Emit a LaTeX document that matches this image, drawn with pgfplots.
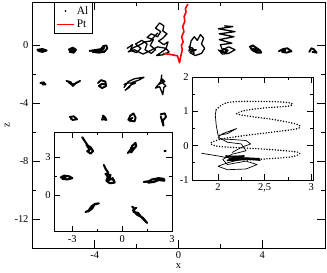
\documentclass[border=0pt]{standalone}
\usepackage{pgfplots}
\pgfplotsset{compat=1.18}
\usepackage{fontspec}
\setmainfont{Liberation Serif}
\begin{document}
\begin{tikzpicture}
\pgfplotsset{
  al/.style={black, line width=1.9pt, line join=round, line cap=round, forget plot},
  alb/.style={black, line width=1.3pt, line join=round, line cap=round, forget plot},
  ali/.style={black, line width=2.1pt, line join=round, line cap=round, forget plot},
}
\begin{axis}[name=ax, scale only axis, width=293bp, height=246bp,
  xmin=-7, xmax=7, ymin=-14, ymax=3,
  xtick={-4,0,4}, ytick={-12,-8,-4,0}, minor x tick num=1, minor y tick num=1,
  major tick length=8bp, minor tick length=4bp,
  axis line style={line width=0.7pt}, every tick/.style={black, line width=0.7pt},
  tick label style={font=\fontsize{10.5}{12}\selectfont},
  /pgf/number format/assume math mode=true,
  xlabel={x}, ylabel={z},
  label style={font=\fontsize{10.5}{12}\selectfont},
  xlabel style={yshift=1.5bp}, ylabel style={yshift=-2bp},
  legend style={at={(axis description cs:0.075,1)}, anchor=north west, draw=black, line width=0.5pt,
    font=\fontsize{11.5}{12}\selectfont, inner sep=2pt, row sep=0.5pt, cells={anchor=west}},
]
\addlegendimage{only marks, mark=*, mark size=0.6pt, black}
\addlegendentry{Al}
\addlegendimage{red, line width=1.6pt}
\addlegendentry{Pt}
% row 1
\addplot[al] coordinates {(-6.75,-0.3) (-6.5,-0.25) (-6.3,-0.35) (-6.5,-0.45) (-6.7,-0.38) (-6.45,-0.32) (-6.35,-0.4)};
\addplot[al] coordinates {(-5.25,-0.3) (-5.05,-0.15) (-4.9,-0.3) (-5.0,-0.5) (-5.2,-0.45) (-5.1,-0.3) (-4.95,-0.4)};
\addplot[al] coordinates {(-4.25,-0.38) (-3.9,-0.3) (-3.7,-0.25) (-3.6,-0.05) (-3.45,0.0) (-3.4,-0.2) (-3.55,-0.45) (-3.8,-0.5) (-4.1,-0.45) (-3.9,-0.38) (-3.65,-0.35) (-3.55,-0.15)};
\addplot[alb] coordinates {(-2.45,-0.2) (-2.2,0.05) (-2.3,-0.35) (-2.0,-0.5) (-1.8,-0.2) (-2.05,0.1) (-1.75,0.35) (-1.5,0.1) (-1.6,-0.3) (-1.3,-0.55) (-1.1,-0.3) (-1.35,0.0) (-1.2,0.4) (-1.5,0.55) (-1.3,0.8) (-1.0,0.6) (-0.85,0.95) (-1.1,1.2) (-0.9,1.55) (-0.7,1.35) (-0.75,1.0) (-0.55,0.8) (-0.75,0.5) (-0.95,0.3) (-0.7,0.05) (-0.5,0.25) (-0.6,-0.25) (-0.85,-0.5) (-1.05,-0.7) (-0.75,-0.65) (-0.45,-0.45) (-0.6,-0.2) (-1.0,-0.1) (-1.4,-0.4) (-1.7,-0.6) (-2.1,-0.3) (-2.4,-0.45) (-2.15,-0.15) (-1.9,0.0) (-1.6,0.25) (-1.35,0.3) (-1.0,0.85)};
\addplot[alb] coordinates {(0.5,-0.4) (0.6,0.3) (0.75,0.6) (0.9,0.35) (1.05,0.75) (1.2,0.5) (1.1,0.1) (1.25,-0.2) (1.1,-0.55) (0.8,-0.7) (0.55,-0.5) (0.7,-0.2) (0.5,-0.1) (0.65,-0.45) (0.85,-0.3) (0.6,-0.3) (0.75,-0.55)};
\addplot[alb] coordinates {(1.9,-0.3) (2.1,-0.6) (2.4,-0.55) (2.7,-0.3) (2.4,-0.1) (2.1,-0.3) (2.0,0.05) (2.55,0.15) (1.95,0.4) (2.65,0.6) (1.95,0.8) (2.7,0.95) (1.9,1.15) (2.6,1.3) (2.2,1.35)};
\addplot[al] coordinates {(2.0,-0.35) (2.2,-0.5) (2.35,-0.35) (2.15,-0.25) (2.05,-0.45) (2.3,-0.5)};
\addplot[al] coordinates {(3.4,-0.1) (3.55,0.0) (3.7,-0.15) (3.9,-0.35) (3.95,-0.5) (3.75,-0.5) (3.55,-0.35) (3.45,-0.2) (3.6,-0.25) (3.8,-0.4)};
\addplot[al] coordinates {(4.8,-0.4) (5.0,-0.25) (5.2,-0.2) (5.4,-0.4) (5.15,-0.5) (4.95,-0.45) (5.1,-0.35)};
\addplot[al] coordinates {(6.25,-0.45) (6.35,-0.2) (6.45,-0.25) (6.6,-0.5) (6.4,-0.45)};
% row 2
\addplot[al] coordinates {(-6.6,-2.6) (-6.45,-2.55) (-6.35,-2.7) (-6.5,-2.7)};
\addplot[al] coordinates {(-5.35,-2.45) (-5.15,-2.55) (-5.05,-2.8) (-4.9,-2.6) (-4.7,-2.45) (-4.95,-2.65) (-5.1,-2.7) (-5.25,-2.55)};
\addplot[al] coordinates {(-3.85,-2.6) (-3.7,-2.4) (-3.5,-2.5) (-3.45,-2.8) (-3.65,-2.95) (-3.8,-2.8) (-3.65,-2.65) (-3.55,-2.7)};
\addplot[alb] coordinates {(-2.6,-2.9) (-2.4,-2.5) (-2.1,-2.3) (-1.65,-2.2) (-1.9,-2.4) (-2.2,-2.55) (-2.35,-2.9) (-2.55,-3.1) (-2.3,-2.75) (-2.05,-2.6) (-2.45,-2.6) (-2.6,-2.7)};
\addplot[alb] coordinates {(-0.8,-2.05) (-0.85,-2.5) (-1.1,-2.95) (-0.9,-2.85) (-0.75,-3.4) (-0.7,-2.9) (-0.6,-2.8) (-0.75,-2.6) (-0.8,-2.3) (-0.65,-2.5) (-0.95,-2.7)};
% row 3
\addplot[al] coordinates {(-5.2,-4.95) (-5.0,-4.9) (-4.85,-5.1) (-5.05,-5.15) (-5.15,-5.05)};
\addplot[al] coordinates {(-3.65,-5.15) (-3.6,-4.85) (-3.5,-5.0) (-3.45,-5.15) (-3.6,-5.1)};
\addplot[al] coordinates {(-2.4,-5.15) (-2.3,-4.85) (-2.15,-4.7) (-2.05,-5.0) (-2.1,-5.25) (-2.35,-5.2) (-2.2,-5.0)};
\addplot[al] coordinates {(-0.85,-4.75) (-0.65,-4.7) (-0.6,-4.95) (-0.75,-5.2) (-0.72,-5.55) (-0.8,-5.15) (-0.85,-4.9)};
% Pt
\addplot[red, line width=1.6pt, line join=round, forget plot] coordinates {(-0.75,-0.55) (-0.4,-0.62) (-0.05,-0.72) (0.05,-1.2) (0.1,-0.8) (0.18,-0.3) (0.14,0.0) (0.22,0.25) (0.15,0.6) (0.26,0.95) (0.2,1.3) (0.3,1.65) (0.27,2.0) (0.36,2.3) (0.33,2.55) (0.45,2.85)};
\end{axis}
\path[use as bounding box] ([xshift=-32bp,yshift=-25bp]ax.south west) rectangle ([xshift=2bp,yshift=2bp]ax.north east);
\path (ax.south west) ++(22bp,16.3bp) coordinate (ia);
\path (ax.south west) ++(160bp,68bp) coordinate (ib);
% inset 1
\begin{axis}[at={(ia)}, anchor=south west,
  scale only axis, width=118bp, height=99.5bp,
  xmin=-4.1, xmax=3.0, ymin=-2.9, ymax=5,
  xtick={-3,0,3}, ytick={0,3}, minor x tick num=1, minor y tick num=1,
  major tick length=6bp, minor tick length=3bp,
  axis line style={line width=0.7pt}, every tick/.style={black, line width=0.7pt},
  tick label style={font=\fontsize{10.5}{12}\selectfont},
  /pgf/number format/assume math mode=true,
  axis background/.style={fill=white},
]
\addplot[ali] coordinates {(-2.4,4.6) (-2.2,4.2) (-2.05,3.9) (-1.95,3.6) (-2.1,3.5) (-1.9,3.3) (-1.75,3.5) (-1.9,3.8) (-2.15,4.0) (-2.0,3.7)};
\addplot[ali] coordinates {(0.35,3.35) (0.5,3.6) (0.6,3.9) (0.8,4.15) (0.85,3.9) (0.65,3.6) (0.55,3.4) (0.45,3.5) (0.7,3.75)};
\addplot[ali] coordinates {(2.55,3.5) (2.62,3.52)};
\addplot[ali] coordinates {(-3.7,1.4) (-3.5,1.55) (-3.2,1.5) (-3.0,1.35) (-3.3,1.25) (-3.6,1.3) (-3.4,1.4)};
\addplot[ali] coordinates {(-1.1,2.4) (-1.0,2.1) (-0.85,1.8) (-0.9,1.5) (-0.7,1.3) (-0.5,1.2) (-0.45,1.0) (-0.75,0.95) (-0.95,1.15) (-0.85,1.45) (-1.0,1.7) (-0.7,1.6) (-0.8,1.2) (-0.55,1.35)};
\addplot[ali] coordinates {(1.3,1.05) (1.6,1.1) (1.8,1.25) (2.0,1.3) (2.2,1.35) (2.5,1.3) (2.55,1.15) (2.2,1.2) (1.9,1.05) (1.6,1.0) (1.45,1.1)};
\addplot[ali] coordinates {(-2.2,-1.35) (-2.0,-1.2) (-1.85,-0.9) (-1.7,-0.75) (-1.4,-0.65) (-1.65,-0.7) (-1.8,-1.05) (-2.05,-1.3) (-1.9,-1.1)};
\addplot[ali] coordinates {(0.6,-0.9) (0.75,-1.1) (0.7,-1.35) (0.95,-1.4) (1.1,-1.65) (1.3,-1.95) (1.5,-2.2) (1.25,-1.8) (0.9,-1.55) (0.65,-1.2) (0.85,-1.0)};
\end{axis}
% inset 2
\begin{axis}[at={(ib)}, anchor=south west,
  scale only axis, width=121bp, height=103bp,
  xmin=1.72, xmax=3.02, ymin=-1, ymax=2,
  xtick={2,2.5,3}, ytick={-1,0,1,2}, minor x tick num=1, minor y tick num=1,
  major tick length=6bp, minor tick length=3bp,
  axis line style={line width=0.7pt}, every tick/.style={black, line width=0.7pt},
  tick label style={font=\fontsize{10.5}{12}\selectfont},
  /pgf/number format/assume math mode=true, /pgf/number format/use comma,
  axis background/.style={fill=white},
]
\addplot[black, line width=1.6pt, line cap=round, dash pattern=on 0pt off 2.8pt, smooth, tension=0.5] coordinates {(1.98,1.05) (2.06,1.22) (2.18,1.28) (2.45,1.29) (2.7,1.27) (2.8,1.22) (2.75,1.15) (2.5,1.1) (2.3,1.03) (2.2,0.93) (2.35,0.85) (2.6,0.76) (2.85,0.62) (2.86,0.5) (2.6,0.4) (2.3,0.3) (2.05,0.2) (1.92,0.08) (2.0,-0.02) (2.3,-0.07) (2.6,-0.12) (2.87,-0.2) (2.8,-0.32) (2.55,-0.38) (2.3,-0.42)};
\addplot[black, line width=0.7pt, line join=round, forget plot] coordinates {(1.82,-0.22) (2.0,-0.3) (2.1,-0.35) (2.2,-0.3) (2.15,-0.45) (2.3,-0.35) (2.45,-0.37) (2.25,-0.4) (2.1,-0.5) (2.0,-0.6) (2.1,-0.7) (2.3,-0.68) (2.42,-0.55) (2.3,-0.45) (2.1,-0.55) (2.05,-0.4) (2.15,-0.25) (2.3,-0.15) (2.25,0.05) (2.1,0.1) (2.0,0.25) (2.05,0.35) (2.2,0.5) (2.1,0.35) (2.0,0.3) (1.98,0.6) (1.97,0.9) (1.98,1.05)};
\addplot[black, line width=0.7pt, line join=round, forget plot] coordinates {(2.0,0.2) (2.15,0.18) (2.3,0.15) (2.35,0.05) (2.25,-0.05) (2.15,-0.2)};
\addplot[black, line width=1.6pt, line join=round, forget plot] coordinates {(2.08,-0.3) (2.25,-0.33) (2.12,-0.38) (2.3,-0.4) (2.1,-0.43) (2.28,-0.3) (2.15,-0.32) (2.45,-0.42) (2.2,-0.36)};
\end{axis}
\end{tikzpicture}
\end{document}
